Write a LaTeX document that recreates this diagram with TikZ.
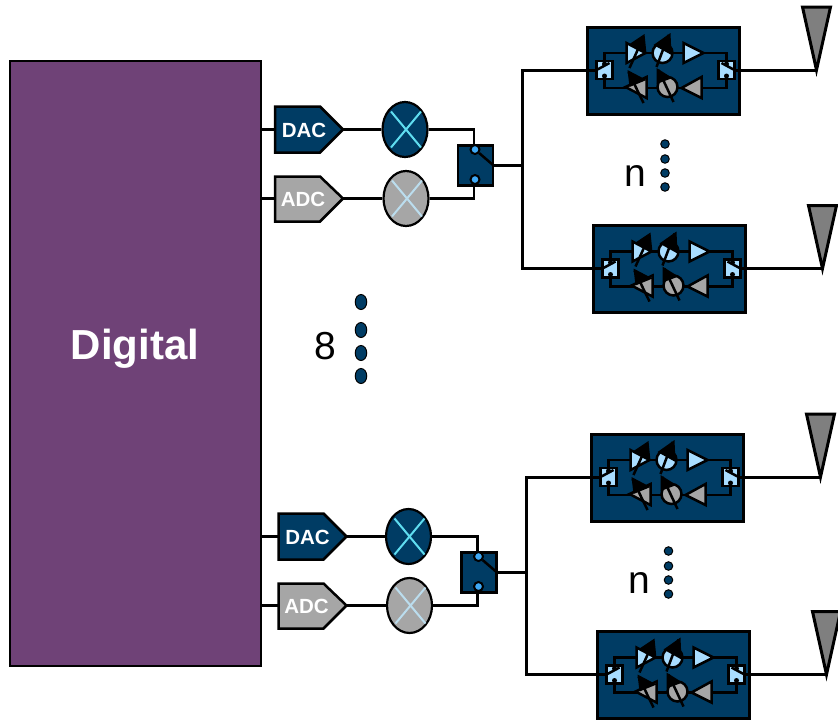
\documentclass[tikz,border=0pt]{standalone}
\usepackage{fontspec}
\setmainfont{Liberation Sans}
\usetikzlibrary{arrows.meta,calc,positioning,shapes.geometric}
\definecolor{navy}{HTML}{003C64}
\definecolor{plum}{HTML}{6F4277}
\definecolor{sky}{HTML}{A9DDFF}
\definecolor{ash}{HTML}{A6A6A6}
\definecolor{horn}{HTML}{7F7F7F}
\definecolor{spark}{HTML}{5FDDF0}
\definecolor{pale}{HTML}{BBDDEE}
\definecolor{pin}{HTML}{3FA9F5}
\tikzset{
  wire/.style={draw=black,line width=3pt},
  thin wire/.style={draw=black,line width=2.5pt},
  tiny dot/.style={circle,fill=navy,draw=black,line width=1pt,inner sep=0pt,minimum size=8.5pt},
  tall dot/.style={ellipse,fill=navy,draw=black,line width=1pt,inner sep=0pt,minimum width=11.5pt,minimum height=15pt},
  mixer/.style={ellipse,draw=black,line width=2.2pt,inner sep=0pt,minimum width=45pt,minimum height=55pt},
  pin dot/.style={circle,fill=pin,draw=black,line width=2pt,inner sep=0pt,minimum size=9pt},
  label big/.style={inner sep=0pt,font=\fontsize{39}{39}\selectfont},
  conv text/.style={inner sep=0pt,text=white,font=\bfseries\fontsize{20.5}{20.5}\selectfont},
  pics/chain/.style={code={
    % converters, mixers and the switch
    \filldraw[thin wire,fill=navy] (0,0)--(45,0)--(68,23)--(45,46)--(0,46)--cycle;
    \filldraw[thin wire,fill=ash] (0,70)--(45,70)--(68,92)--(45,115)--(0,115)--cycle;
    \coordinate (-dacin) at (0,23);
    \coordinate (-dacout) at (68,23);
    \coordinate (-adcin) at (0,92);
    \coordinate (-adcout) at (68,92);
    \node[conv text] (-dac) at (29,24) {DAC};
    \node[conv text] (-adc) at (28,93) {ADC};
    \node[mixer,fill=navy] (-mixa) at (130,23) {};
    \node[mixer,fill=ash] (-mixb) at (131,92) {};
    \draw[spark,line width=2pt] (116,5)--(146,41) (146,5)--(116,41);
    \draw[pale,line width=2pt] (117,74)--(147,110) (147,74)--(117,110);
    \draw[thin wire] (-dacout)--(-mixa);
    \draw[thin wire] (-adcout)--(-mixb);
    \draw[thin wire] (-mixa.east)--(199,23)--(199,39);
    \draw[thin wire] (-mixb.east)--(199,92)--(199,77);
    \filldraw[thin wire,fill=navy] (183,39)--(218,39)--(218,79)--(183,79)--cycle;
    \node[pin dot] (-pina) at (200,43) {};
    \node[pin dot] (-pinb) at (200,73) {};
    \coordinate (-swout) at (218,58.5);
    \draw[thin wire] (-pina)--(-swout);
  }},
  pics/module/.style={code={
    % board with the two amplifier paths and the antenna
    \filldraw[wire,fill=navy] (0,0) rectangle (152,87);
    \coordinate (-in) at (9,43);
    \coordinate (-out) at (147,43);
    \coordinate (-tip) at (229,43);
    \draw[thin wire] (17,34)--(17,26)--(139,26)--(139,34);
    \draw[thin wire] (17,52)--(17,61)--(139,61)--(139,52);
    % switches
    \filldraw[thin wire,fill=sky] (9,34) rectangle (25,52);
    \filldraw[thin wire,fill=sky] (131,34) rectangle (147,52);
    \fill (17,37) circle (2.5pt) (139,37) circle (2.5pt) (17,49) circle (2.5pt) (139,49) circle (2.5pt);
    \draw[thin wire] (9,43)--(22,36) (147,43)--(134,36);
    % upper path
    \filldraw[thin wire,fill=sky] (39,16)--(39,36)--(58,26)--cycle;
    \fill (42,17)--(59,27)--(57,7)--cycle;
    \draw[thin wire] (42,41)--(56,10);
    \node[circle,draw=black,line width=2.5pt,fill=sky,inner sep=0pt,minimum size=20pt] (-pha) at (75,26) {};
    \fill (66,18)--(84,28)--(83,6)--cycle;
    \draw[thin wire] (69,40)--(81,8);
    \filldraw[thin wire,fill=sky] (96,16)--(96,36)--(116,26)--cycle;
    % lower path
    \filldraw[thin wire,fill=ash] (38,60)--(59,50)--(59,71)--cycle;
    \fill (40,43)--(42,60)--(59,53)--cycle;
    \draw[thin wire] (41,45)--(56,76);
    \node[circle,draw=black,line width=2.5pt,fill=ash,inner sep=0pt,minimum size=20pt] (-phb) at (80,60) {};
    \fill (69,41)--(69,57)--(85,51)--cycle;
    \draw[thin wire] (71,43)--(86,75);
    \filldraw[thin wire,fill=ash] (94,61)--(114,50)--(114,71)--cycle;
    % antenna
    \filldraw[wire,fill=horn] (215,-20)--(243,-20)--(-tip)--cycle;
    \draw[wire] (-out)--(-tip);
  }}
}
\begin{document}
\begin{tikzpicture}[x=1pt,y=-1pt]
    \useasboundingbox (0,0) rectangle (838,721);
    \node[draw=black,line width=2.2pt,fill=plum,minimum width=251pt,minimum height=605pt,inner sep=0pt,anchor=north west] (digital) at (9,59.5) {};
    \node[text=white,inner sep=0pt,font=\bfseries\fontsize{42}{42}\selectfont] (title) at (135,349) {Digital};

    \pic (top) at (275,106.5) {chain};
    \pic (bot) at (278.5,513.5) {chain};

    \pic (ma) at (587.5,27) {module};
    \pic (mb) at (593.5,225.5) {module};
    \pic (mc) at (591.5,434) {module};
    \pic (md) at (597.5,631.5) {module};

    % buses from the switches to the boards
    \coordinate (busa) at (522,165);
    \coordinate (busb) at (526,572);
    \draw[thin wire] (digital.east |- top-dacin)--(top-dacin);
    \draw[thin wire] (digital.east |- top-adcin)--(top-adcin);
    \draw[thin wire] (digital.east |- bot-dacin)--(bot-dacin);
    \draw[thin wire] (digital.east |- bot-adcin)--(bot-adcin);
    \draw[wire] (top-swout)--(busa);
    \draw[wire] (bot-swout)--(busb);
    \draw[wire] (ma-in)-|(busa)|-(mb-in);
    \draw[wire] (mc-in)-|(busb)|-(md-in);

    \node[label big] (na) at (635,176) {n};
    \node[label big] (nb) at (639,583) {n};
    \node[label big] (eight) at (325,346) {8};
    \foreach \y [count=\i] in {144,159,173,187} {
      \node[tiny dot] (da\i) at (665,\y) {};
      \node[tiny dot] (db\i) at (668.5,\y+407) {};
    }
    \foreach \y [count=\i] in {302,330,353,376} {
      \node[tall dot] (dc\i) at (361,\y) {};
    }
\end{tikzpicture}
\end{document}
